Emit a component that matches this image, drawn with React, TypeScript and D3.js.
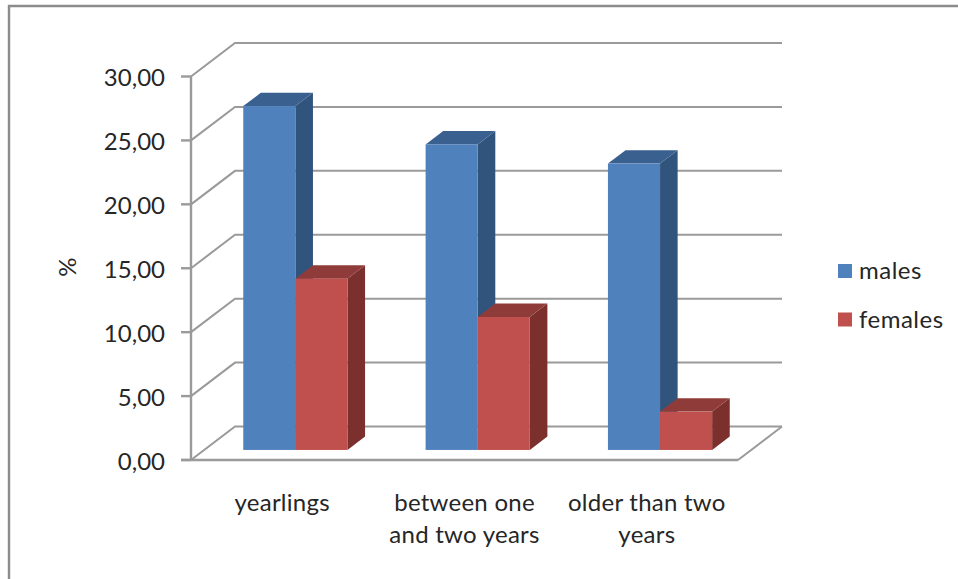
import React from "react";
import * as d3 from "d3";

const categories = ["yearlings", "between one and two years", "older than two years"];
const categoryLines = [["yearlings"], ["between one", "and two years"], ["older than two", "years"]];
const seriesNames = ["males", "females"];
const males = [26.9, 23.9, 22.4];
const females = [13.4, 10.4, 3.0];
const yTicks = [0, 5, 10, 15, 20, 25, 30];

const WIDTH = 958;
const HEIGHT = 579;
const FONT = "Lato, 'Noto Sans', sans-serif";
const GRID = "#9a9a9a";
const TEXT = "#262626";
const LABEL_SIZE = 24;
const LABEL_SPACING = 0.25;
const LEGEND_SPACING = 0.5;

// Fill colours per series: front, top and side faces of each column.
const FACES = [
  { front: "#4f81bd", top: "#3a6090", side: "#31547d" },
  { front: "#c0504d", top: "#8f3b39", side: "#7b302e" },
];

// Oblique depth of the plot floor, back wall relative to the front edge.
const DEPTH_X = 44;
const DEPTH_Y = -33.5;
// Columns occupy this slice of the floor depth.
const BAR_NEAR = 0.3;
const BAR_FAR = 0.7;

const y = d3.scaleLinear().domain([0, 30]).range([460, 76.5]);
const x = d3.scaleBand<string>().domain(categories).range([191, 738]).paddingInner(0).paddingOuter(0);
const inner = d3.scaleBand<string>().domain(seriesNames).range([0, x.bandwidth()]).paddingOuter(0.75).paddingInner(0);

const fmt = (v: number) => v.toFixed(2).replace(".", ",");
const pts = (p: [number, number][]) => p.map((q) => q.join(",")).join(" ");

function Column({ x0, x1, value, faces }: { x0: number; x1: number; value: number; faces: (typeof FACES)[number] }) {
  const nx = DEPTH_X * BAR_NEAR;
  const ny = DEPTH_Y * BAR_NEAR;
  const dx = DEPTH_X * (BAR_FAR - BAR_NEAR);
  const dy = DEPTH_Y * (BAR_FAR - BAR_NEAR);
  const l = x0 + nx;
  const r = x1 + nx;
  const b = y(0) + ny;
  const t = y(value) + ny;
  return (
    <g>
      <polygon points={pts([[r, b], [r + dx, b + dy], [r + dx, t + dy], [r, t]])} fill={faces.side} />
      <polygon points={pts([[l, t], [l + dx, t + dy], [r + dx, t + dy], [r, t]])} fill={faces.top} />
      <rect x={l} y={t} width={r - l} height={b - t} fill={faces.front} />
    </g>
  );
}

export default function App() {
  const backRight = 738 + DEPTH_X;
  return (
    <svg
      width={WIDTH}
      height={HEIGHT}
      viewBox={`0 0 ${WIDTH} ${HEIGHT}`}
      style={{ position: "absolute", left: 0, top: 0, background: "#fff" }}
      fontFamily={FONT}
    >
      {/* Chart frame: only the top and left edges are in view */}
      <path d={`M9 ${HEIGHT} V6 H${WIDTH}`} fill="none" stroke="#8c8c8c" strokeWidth={2.4} />

      {/* Back-wall gridlines with their diagonal returns along the side wall */}
      {yTicks.map((t) => (
        <path
          key={t}
          d={`M191 ${y(t)} L${191 + DEPTH_X} ${y(t) + DEPTH_Y} H${backRight}`}
          fill="none"
          stroke={GRID}
          strokeWidth={2}
        />
      ))}

      {/* Floor outline */}
      <path d={`M738 ${y(0)} L${backRight} ${y(0) + DEPTH_Y}`} fill="none" stroke={GRID} strokeWidth={2} />
      <line x1={181} x2={738} y1={y(0)} y2={y(0)} stroke={GRID} strokeWidth={2.4} />

      {/* Value axis and tick marks */}
      <line x1={191} x2={191} y1={y(30)} y2={y(0)} stroke={GRID} strokeWidth={2.4} />
      {yTicks.map((t) => (
        <line key={t} x1={181} x2={191} y1={y(t)} y2={y(t)} stroke={GRID} strokeWidth={2.4} />
      ))}
      {yTicks.map((t) => (
        <text key={t} x={165} y={y(t) + 9.5} textAnchor="end" fontSize={LABEL_SIZE} fill={TEXT}>
          {fmt(t)}
        </text>
      ))}

      {/* Columns, left to right */}
      {categories.map((c, i) => (
        <g key={c}>
          {[males, females].map((vals, s) => {
            const x0 = x(c)! + inner(seriesNames[s])!;
            return <Column key={s} x0={x0} x1={x0 + inner.bandwidth()} value={vals[i]} faces={FACES[s]} />;
          })}
        </g>
      ))}

      {/* Category labels */}
      {categories.map((c, i) => (
        <text key={c} textAnchor="middle" fontSize={LABEL_SIZE} letterSpacing={LABEL_SPACING} fill={TEXT}>
          {categoryLines[i].map((line, k) => (
            <tspan key={k} x={x(c)! + x.bandwidth() / 2} y={511 + k * 32}>
              {line}
            </tspan>
          ))}
        </text>
      ))}

      {/* Value axis title */}
      <text transform="translate(76,267) rotate(-90)" textAnchor="middle" fontSize={LABEL_SIZE} fill={TEXT}>
        %
      </text>

      {/* Legend */}
      {seriesNames.map((name, i) => (
        <g key={name}>
          <rect x={838} y={264 + i * 48.5} width={14} height={14} fill={FACES[i].front} />
          <text x={859} y={279 + i * 48.5} fontSize={LABEL_SIZE} letterSpacing={LEGEND_SPACING} fill={TEXT}>
            {name}
          </text>
        </g>
      ))}
    </svg>
  );
}
